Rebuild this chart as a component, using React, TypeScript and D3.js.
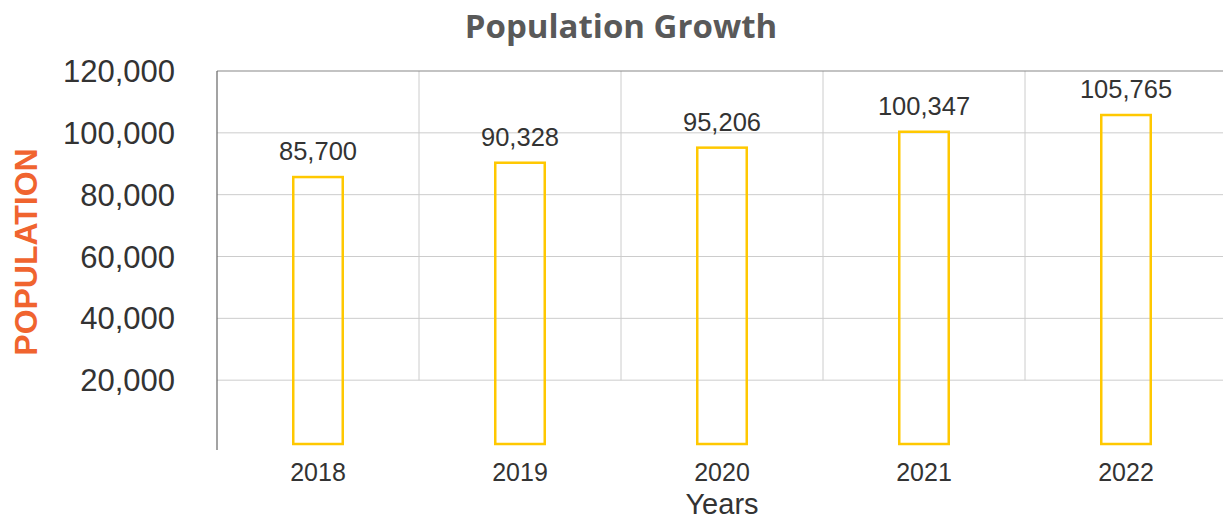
import { scaleBand, scaleLinear, format } from 'd3'

const years = ['2018', '2019', '2020', '2021', '2022']
const population = [85700, 90328, 95206, 100347, 105765]
const yTicks = [20000, 40000, 60000, 80000, 100000, 120000]

const width = 1223
const height = 520
const margin = { left: 217, right: -4, top: 71, bottom: 78 }

export default function App() {
  const x = scaleBand<string>().domain(years).range([margin.left, width - margin.right]).padding(0)
  const y = scaleLinear().domain([0, 120000]).range([height - margin.bottom, margin.top])
  const fmt = format(',')
  const barW = x.bandwidth() * 0.245

  return (
    <svg width={width} height={height} style={{ position: 'absolute', left: 0, top: 0 }} fontFamily="'Liberation Sans', Arial, sans-serif">
      <text x={621} y={38} textAnchor="middle" fontFamily="'Open Sans', sans-serif" fontWeight="bold" fontSize={33} fill="#595959">
        Population Growth
      </text>

      {/* horizontal grid */}
      {yTicks.slice(0, -1).map((t) => (
        <line key={t} x1={margin.left} x2={width} y1={y(t)} y2={y(t)} stroke="#cccccc" strokeWidth={1} />
      ))}
      {/* vertical grid between categories */}
      {years.slice(1).map((yr) => (
        <line key={yr} x1={x(yr)} x2={x(yr)} y1={y(120000)} y2={y(20000)} stroke="#cccccc" strokeWidth={1} />
      ))}
      <line x1={margin.left} x2={width} y1={y(120000)} y2={y(120000)} stroke="#888888" strokeWidth={1.2} />
      <line x1={margin.left} x2={margin.left} y1={y(120000)} y2={450} stroke="#666666" strokeWidth={1.2} />

      {yTicks.map((t) => (
        <text key={t} x={175} y={y(t)} dy="0.36em" textAnchor="end" fontSize={31} fill="#333333">
          {fmt(t)}
        </text>
      ))}

      {population.map((v, i) => {
        const cx = (x(years[i]) ?? 0) + x.bandwidth() / 2
        return (
          <g key={years[i]}>
            <rect x={cx - barW / 2} y={y(v)} width={barW} height={y(0) + 2 - y(v)} fill="none" stroke="#FFC800" strokeWidth={2.5} />
            <text x={cx} y={y(v) - 17} textAnchor="middle" fontSize={25.5} fill="#333333">
              {fmt(v)}
            </text>
            <text x={cx} y={481} textAnchor="middle" fontSize={25} fill="#333333">
              {years[i]}
            </text>
          </g>
        )
      })}

      <text x={722} y={514} textAnchor="middle" fontSize={29} fill="#333333">
        Years
      </text>
      <text transform="translate(37,252) rotate(-90)" textAnchor="middle" fontWeight="bold" fontSize={32} fill="#F0642F">
        POPULATION
      </text>
    </svg>
  )
}
